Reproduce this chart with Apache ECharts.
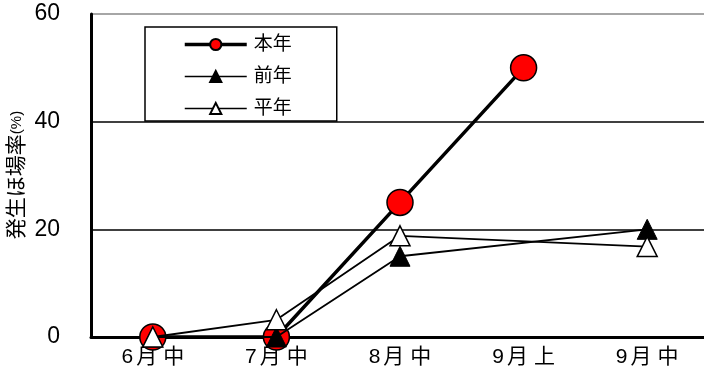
<!DOCTYPE html>
<html><head><meta charset="utf-8">
<script src="https://cdn.jsdelivr.net/npm/echarts@6/dist/echarts.min.js"></script>
<style>html,body{margin:0;padding:0;background:#fff}#c{width:704px;height:392px}</style>
</head><body><div id="c"></div>
<script>
var categories = ['6月中', '7月中', '8月中', '9月上', '9月中'];
var honnen = [0, 0, 25, 50, null];
var zennen = [0, 0, 15, null, 20];
var heinen = [0, 3.2, 18.8, null, 16.8];
var seriesNames = ['本年', '前年', '平年'];
var yTicks = [0, 20, 40, 60];
var yName = '発生ほ場率';
var yUnit = '(%)';

var FONT = "'Liberation Sans', 'Noto Sans CJK JP', sans-serif";
var chart = echarts.init(document.getElementById('c'), null, {renderer: 'canvas'});

function splitLabel(s) {
  var head = s.slice(0, s.length - 1), last = s.slice(s.length - 1);
  var m = head.indexOf('月');
  return '{d|' + head.slice(0, m) + '}{m|月}{c|' + last + '}';
}
var labelRich = {
  d: {fontSize: 21, color: '#000', fontFamily: FONT, padding: [0, 3, 0, 0]},
  m: {fontSize: 21, color: '#000', fontFamily: FONT, padding: [0, 6, 0, 0]},
  c: {fontSize: 21, color: '#000', fontFamily: FONT}
};

chart.setOption({
  animation: false,
  backgroundColor: '#fff',
  textStyle: {fontFamily: FONT, color: '#000'},
  grid: {left: 91, top: 14, bottom: 55, right: -5, containLabel: false, outerBoundsMode: 'none'},
  graphic: [{
    type: 'text', x: 17, y: 175, rotation: Math.PI / 2, z: 10,
    style: {
      text: '{a|' + yName + '}{b|' + yUnit + '}',
      align: 'center', verticalAlign: 'middle',
      rich: {a: {fontSize: 21, fill: '#000', fontFamily: FONT}, b: {fontSize: 15, fill: '#000', fontFamily: FONT}}
    }
  }],
  legend: {
    orient: 'vertical', left: 145, top: 27,
    padding: [8, 45, 3, 38],
    borderColor: '#000', borderWidth: 1.5,
    itemWidth: 62, itemHeight: 14, itemGap: 13,
    textStyle: {fontSize: 19, lineHeight: 16, color: '#000', fontFamily: FONT, padding: [0, 0, 0, 2]},
    data: [
      {name: seriesNames[0], lineStyle: {width: 3.5}},
      {name: seriesNames[1], lineStyle: {width: 1.5}},
      {name: seriesNames[2], lineStyle: {width: 1.5}}
    ]
  },
  xAxis: {
    type: 'category', data: categories, boundaryGap: true,
    axisLine: {lineStyle: {color: '#000', width: 3}},
    axisTick: {inside: true, length: 6, lineStyle: {color: '#000', width: 1.5}},
    axisLabel: {color: '#000', margin: 10, formatter: splitLabel, rich: labelRich},
    splitLine: {show: false}
  },
  yAxis: {
    type: 'value', min: yTicks[0], max: yTicks[yTicks.length - 1], interval: 20,
    axisLine: {show: true, lineStyle: {color: '#000', width: 3}},
    axisTick: {show: false},
    axisLabel: {fontSize: 23, color: '#000', margin: 31, fontFamily: FONT},
    splitLine: {show: true, lineStyle: {color: ['#000', '#000', '#000', '#888'], width: 1.5}}
  },
  series: [
    {
      name: seriesNames[0], type: 'line', data: honnen, z: 2,
      symbol: 'circle', symbolSize: 26,
      lineStyle: {color: '#000', width: 3.5},
      itemStyle: {color: '#ff0000', borderColor: '#000', borderWidth: 1.5}
    },
    {
      name: seriesNames[1], type: 'line', data: zennen, z: 3, connectNulls: true,
      symbol: 'triangle', symbolSize: 20,
      lineStyle: {color: '#000', width: 1.8},
      itemStyle: {color: '#000', borderColor: '#000', borderWidth: 1}
    },
    {
      name: seriesNames[2], type: 'line', data: heinen, z: 4, connectNulls: true,
      symbol: 'triangle', symbolSize: 20,
      lineStyle: {color: '#000', width: 1.8},
      itemStyle: {color: '#fff', borderColor: '#000', borderWidth: 1.5}
    }
  ]
});
</script></body></html>
